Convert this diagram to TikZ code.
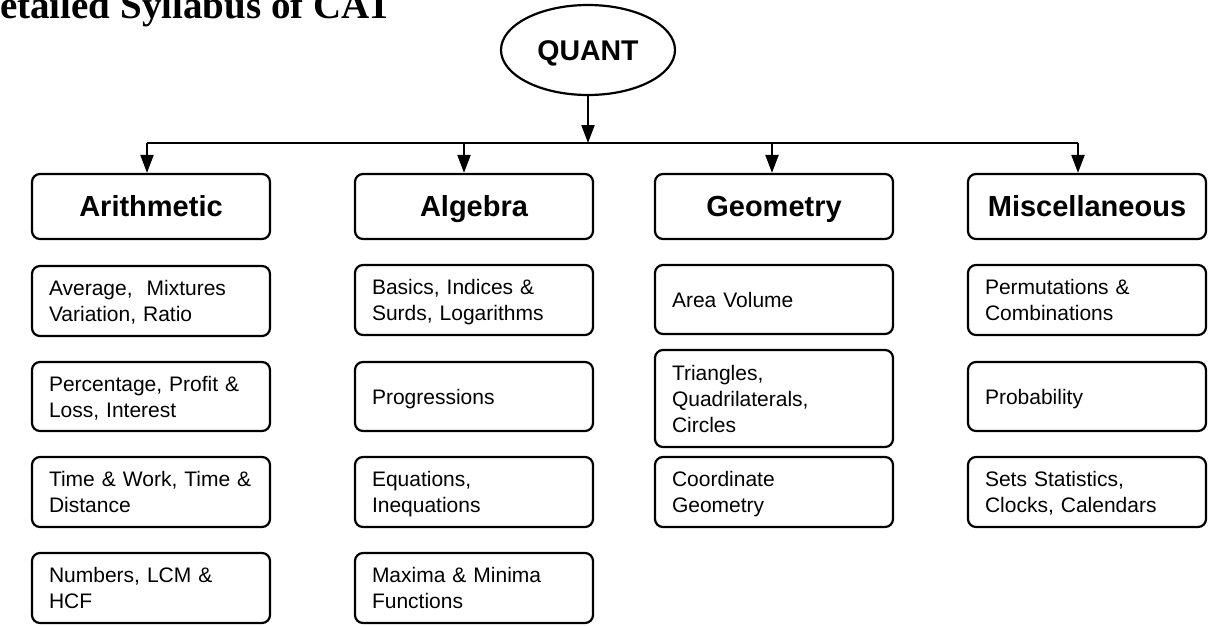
\documentclass[tikz,border=0pt]{standalone}
\usepackage{fontspec}
\setmainfont{Liberation Sans}
\newfontfamily\titlefont{Liberation Serif}
\usetikzlibrary{shapes.geometric,arrows.meta,calc}
\tikzset{
  lw/.style={line width=2.2pt},
  arr/.style={lw,-{Triangle[length=18pt,width=13pt]}},
  head/.style={draw,lw,rounded corners=8pt,minimum width=238pt,minimum height=65pt,
    inner sep=0pt,text height=20.8pt,text depth=0pt,font=\bfseries\fontsize{29}{34}\selectfont},
  sub/.style={draw,lw,rounded corners=8pt,minimum height=70pt,text width=204pt,
    inner xsep=17pt,inner ysep=0pt,text height=15.3pt,text depth=26pt,align=left,
    font=\fontsize{21}{26}\selectfont},
  subone/.style={sub,text depth=0pt},
  subthree/.style={sub,text depth=52pt},
}
\begin{document}
\begin{tikzpicture}[x=1pt,y=-1pt]
\useasboundingbox (0,0) rectangle (1210,626);
\node[anchor=base west,inner sep=0pt,font=\titlefont\bfseries\fontsize{39}{41}\selectfont] (title) at (-28.2,18.5) {Detailed Syllabus of CAT};
\node[draw,lw,ellipse,minimum width=174pt,minimum height=90pt,inner sep=0pt,
  text height=20.4pt,text depth=0pt,
  font=\bfseries\fontsize{28.5}{32}\selectfont] (Q) at (588,50) {QUANT};
% headers
\node[head] (ar) at (151,206.5) {Arithmetic};
\node[head] (al) at (474,206.5) {Algebra};
\node[head] (ge) at (774,206.5) {Geometry};
\node[head] (mi) at (1087,206.5) {Miscellaneous};
% bar
\coordinate (b1) at (147,143);
\coordinate (b2) at (464,143);
\coordinate (b3) at (772,143);
\coordinate (b4) at (1078,143);
\draw[lw] (b1) -- (b4);
\draw[arr] (Q.south) -- (Q.south |- b1);
\draw[arr] (b1) -- (b1 |- ar.north);
\draw[arr] (b2) -- (b2 |- al.north);
\draw[arr] (b3) -- (b3 |- ge.north);
\draw[arr] (b4) -- (b4 |- mi.north);
% arithmetic
\node[sub] (ar1) at (151,301) {Average,\ \ Mixtures\\Variation, Ratio};
\node[sub,minimum height=69pt] (ar2) at (151,396.5) {Percentage, Profit \&\\Loss, Interest};
\node[sub] (ar3) at (151,492) {Time \& Work, Time \&\\Distance};
\node[sub] (ar4) at (151,588) {Numbers, LCM \&\\HCF};
% algebra
\node[sub] (al1) at (474,300) {Basics, Indices \&\\Surds, Logarithms};
\node[subone,minimum height=69pt] (al2) at (474,396.5) {Progressions};
\node[sub] (al3) at (474,492) {Equations,\\Inequations};
\node[sub] (al4) at (474,588) {Maxima \& Minima\\Functions};
% geometry
\node[subone,minimum height=69pt] (ge1) at (774,299.5) {Area Volume};
\node[subthree,minimum height=97pt] (ge2) at (774,398.5) {Triangles,\\Quadrilaterals,\\Circles};
\node[sub] (ge3) at (774,492) {Coordinate\\Geometry};
% misc
\node[sub] (mi1) at (1087,300) {Permutations \&\\Combinations};
\node[subone,minimum height=69pt] (mi2) at (1087,396.5) {Probability};
\node[sub] (mi3) at (1087,492) {Sets Statistics,\\Clocks, Calendars};
\end{tikzpicture}
\end{document}
